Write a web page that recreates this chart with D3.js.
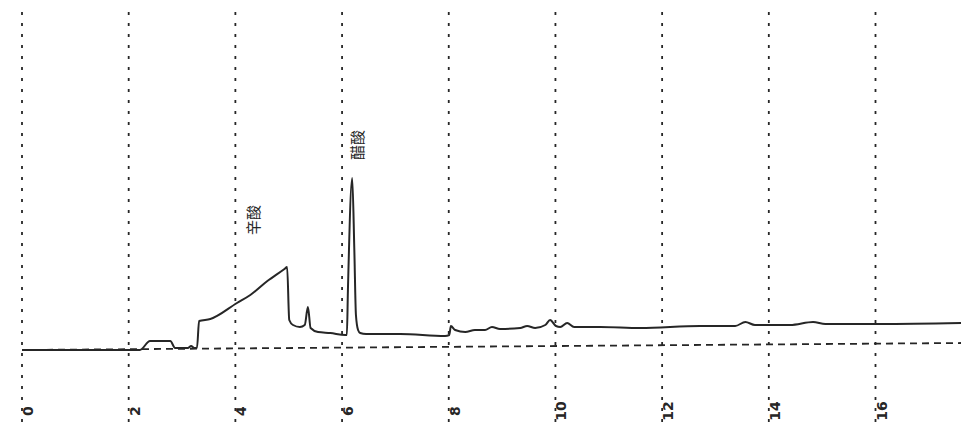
<!DOCTYPE html>
<html>
<head>
<meta charset="utf-8">
<script src="https://cdn.jsdelivr.net/npm/d3@7"></script>
<style>
  html, body { margin: 0; padding: 0; background: #fff; }
  svg { display: block; }
</style>
</head>
<body>
<svg id="chart" width="961" height="427"></svg>
<script>
// Retention time (min) and detector signal of the chromatogram trace
const traceTime = [0, 2.21, 2.40, 2.78, 2.87, 3.11, 3.17, 3.23, 3.28, 3.32, 3.53, 4.03, 4.28, 4.60, 4.92, 4.97,
  5.01, 5.08, 5.21, 5.30, 5.36, 5.41, 5.55, 5.78, 6.06,
  6.09, 6.11, 6.19, 6.23, 6.26, 6.30, 6.34, 6.45, 7.09, 7.93,
  8.01, 8.04, 8.12, 8.31, 8.49, 8.68, 8.81, 8.96, 9.34, 9.47, 9.62, 9.81, 9.90, 10.01, 10.09, 10.22, 10.35,
  10.84, 11.59, 12.71, 13.37, 13.56, 13.74, 14.40, 14.83, 15.06, 16.09, 17.61];
const traceSignal = [0, 0, 9, 9, 2, 2, 4, 2, 2, 29, 31, 47, 55, 69, 81, 83,
  30, 25, 23, 25, 43, 22, 18, 17, 15,
  15, 60, 172, 100, 35, 20, 17, 16, 16, 14,
  15, 24, 20, 18, 20, 20, 23, 21, 22, 24, 22, 25, 30, 24, 23, 27, 23,
  23, 22, 24, 24, 28, 25, 25, 28, 26, 26, 27];

// Horizontal reference baseline (start and end)
const baseTime = [0, 17.61];
const baseSignal = [0, 7];

// Time axis ticks and labels
const tickValues = [0, 2, 4, 6, 8, 10, 12, 14, 16];
const tickLabels = ["0", "2", "4", "6", "8", "10", "12", "14", "16"];

// Peak annotations
const peakNames = ["辛酸", "醋酸"];
const peakTimes = [4.32, 6.28];
const peakLabelSignal = [130, 205];

const svg = d3.select("#chart");
const W = 961, H = 427;
const ink = "#262626";

const x = d3.scaleLinear().domain([0, 16]).range([22, 875.5]);
const y = d3.scaleLinear().domain([0, 200]).range([350, 150]);

// Vertical dotted grid lines at each tick
svg.append("g")
  .selectAll("line")
  .data(tickValues)
  .join("line")
  .attr("x1", d => x(d)).attr("x2", d => x(d))
  .attr("y1", 12).attr("y2", H)
  .attr("stroke", ink)
  .attr("stroke-width", 1.8)
  .attr("stroke-dasharray", "3,8");

// Dashed baseline
const baseData = baseTime.map((t, i) => [t, baseSignal[i]]);
svg.append("path")
  .datum(baseData)
  .attr("fill", "none")
  .attr("stroke", ink)
  .attr("stroke-width", 1.8)
  .attr("stroke-dasharray", "7,5")
  .attr("d", d3.line().x(d => x(d[0])).y(d => y(d[1])));

// Tick labels, rotated to read bottom-to-top
svg.append("g")
  .selectAll("text")
  .data(tickValues)
  .join("text")
  .attr("transform", d => `translate(${x(d) + 6},411) rotate(-90)`)
  .attr("text-anchor", "middle")
  .attr("dominant-baseline", "central")
  .attr("font-family", "DejaVu Sans, sans-serif")
  .attr("font-size", 14)
  .attr("font-weight", "bold")
  .attr("fill", ink)
  .text((d, i) => tickLabels[i]);

// Chromatogram trace
const traceData = traceTime.map((t, i) => [t, traceSignal[i]]);
svg.append("path")
  .datum(traceData)
  .attr("fill", "none")
  .attr("stroke", ink)
  .attr("stroke-width", 2)
  .attr("stroke-linejoin", "round")
  .attr("d", d3.line().curve(d3.curveMonotoneX).x(d => x(d[0])).y(d => y(d[1])));

// Peak name labels
svg.append("g")
  .selectAll("text")
  .data(peakNames)
  .join("text")
  .attr("transform", (d, i) => `translate(${x(peakTimes[i])},${y(peakLabelSignal[i])}) rotate(-90)`)
  .attr("text-anchor", "middle")
  .attr("dominant-baseline", "central")
  .attr("font-family", "Noto Sans CJK SC, sans-serif")
  .attr("font-size", 15)
  .attr("fill", ink)
  .text(d => d);
</script>
</body>
</html>
